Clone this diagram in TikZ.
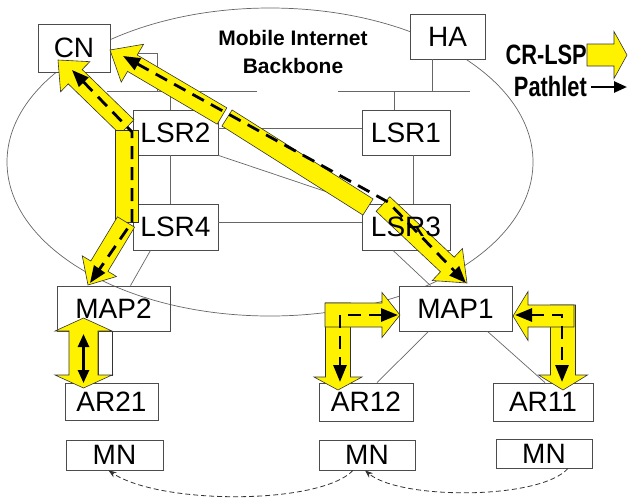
\documentclass[tikz,border=0pt]{standalone}
\usepackage{fontspec}
\setmainfont{Liberation Sans}
\newfontfamily\legendfont[FakeStretch=0.78]{Liberation Sans}
\usetikzlibrary{arrows.meta,calc}

% fat yellow arrow: tail, tip, half shaft, half head, head length
\newcommand{\crlsp}[5]{%
  \coordinate (lspb) at ($(#2)!#5pt!(#1)$);
  \draw[lsp] ($(#1)!#3pt!90:(#2)$) -- ($(lspb)!#3pt!90:(#2)$) -- ($(lspb)!#4pt!90:(#2)$) -- (#2)
    -- ($(lspb)!#4pt!-90:(#2)$) -- ($(lspb)!#3pt!-90:(#2)$) -- ($(#1)!#3pt!-90:(#2)$) -- cycle;
}
% yellow band without head
\newcommand{\crband}[3]{%
  \draw[lsp] ($(#1)!#3pt!90:(#2)$) -- ($(#2)!#3pt!-90:(#1)$) -- ($(#2)!#3pt!90:(#1)$) -- ($(#1)!#3pt!-90:(#2)$) -- cycle;
}

\begin{document}
\begin{tikzpicture}[x=1pt, y=-1pt,
    box/.style={draw=black!70, fill=white, line width=0.8pt, inner sep=0pt, font=\fontsize{28}{30}\selectfont},
    link/.style={black!60, line width=0.7pt},
    lsp/.style={draw=black!80, fill=yellow, line width=0.6pt, line join=miter},
    pathlet/.style={line width=2.8pt, dash pattern=on 13pt off 8pt, {Triangle[length=17pt,width=13pt]}-{Triangle[length=17pt,width=13pt]}},
    move/.style={black!80, line width=0.8pt, dash pattern=on 5pt off 3pt, -{Stealth[length=8pt,width=6pt]}},
    legend/.style={inner sep=0pt, font=\legendfont\bfseries\fontsize{28}{30}\selectfont}]
    \useasboundingbox (0,0) rectangle (628,499);

    % backbone
    \draw[link] (270,162) ellipse [x radius=263, y radius=154];
    \node[font=\bfseries\fontsize{21}{28}\selectfont, align=center] (backbone) at (293,52) {Mobile Internet\\Backbone};

    % nodes
    \node[box, minimum width=72pt, minimum height=48pt] (cn) at (74,48) {CN};
    \node[box, minimum width=75pt, minimum height=45pt] (ha) at (447.5,36.5) {HA};
    \node[box, minimum width=85pt, minimum height=45pt] (lsr2) at (175.5,132.5) {LSR2};
    \node[box, minimum width=85pt, minimum height=46pt] (lsr4) at (175.5,227) {LSR4};
    \node[box, minimum width=88pt, minimum height=45pt] (lsr1) at (406,132.5) {LSR1};
    \node[box, minimum width=88pt, minimum height=46pt] (lsr3) at (406,227) {};
    \node[box, fill=none, minimum width=113pt, minimum height=45pt] (map2) at (113.5,308.5) {MAP2};
    \node[box, minimum width=113pt, minimum height=45pt] (map1) at (455.5,308.5) {MAP1};
    \node[box, minimum width=93pt, minimum height=37pt] (ar21) at (111.5,401.5) {AR21};
    \node[box, minimum width=94pt, minimum height=38pt] (ar12) at (366,402) {AR12};
    \node[box, minimum width=100pt, minimum height=38pt] (ar11) at (543,402) {AR11};
    \node[box, minimum width=97pt, minimum height=30pt] (mn1) at (114.5,455) {MN};
    \node[box, minimum width=96pt, minimum height=30pt] (mn2) at (367,455) {MN};
    \node[box, minimum width=96pt, minimum height=29pt] (mn3) at (544,453.5) {MN};

    % links
    \coordinate (busl) at (107,91);
    \coordinate (busle) at (257,91);
    \coordinate (busr) at (338,91);
    \coordinate (busre) at (470,91);
    \draw[link] (busl) -- (busle);
    \draw[link] (busr) -- (busre);
    \draw[link] ([yshift=-5pt]cn.east) -| ($(busl)+(50,0)$);
    \draw[link] ([xshift=-5pt]lsr2.north) -- ++(0,-19);
    \draw[link] ([xshift=-15pt]ha.south) -- ++(0,32);
    \draw[link] ([xshift=-12pt]lsr1.north) -- ++(0,-19);
    \draw[link] ([yshift=4.5pt]lsr2.east) -- ([yshift=4.5pt]lsr1.west);
    \draw[link] ([yshift=5pt]lsr4.east) -- ([yshift=5pt]lsr3.west);
    \draw[link] ([xshift=-5pt]lsr2.south) -- ([xshift=-5pt]lsr4.north);
    \draw[link] ([xshift=7pt]lsr1.south) -- ([xshift=7pt]lsr3.north);
    \draw[link] (lsr2.south east) -- (lsr3.north west);
    \draw[link] ([xshift=-25pt]lsr4.south) -- ([xshift=17pt]map2.north);
    \draw[link] ([xshift=-13pt]lsr3.south) -- ([xshift=-25pt]map1.north);
    \draw[link] ([xshift=-27pt]map1.south) -- ([xshift=11pt]ar12.north);
    \draw[link] ([xshift=32pt]map1.south) -- ([xshift=2pt]ar11.north);

    % CR-LSPs
    \crlsp{127,127}{58,60}{10}{21}{24}
    \draw[lsp] (115,130) rectangle (138,222);
    \crlsp{126,222}{88,285}{10}{20}{22}
    \crlsp{222,116}{110,50}{9.5}{22}{26}
    \crband{227,118}{368,207}{9.5}
    \crlsp{383,204}{467,283}{10}{22}{27}
    \crlsp{338,303}{338,390}{12.5}{24}{13}
    \crlsp{325,315}{400,315}{12}{22.5}{18}
    \crlsp{563,305}{563,390}{12.5}{24.5}{15}
    \crlsp{574,316}{513,316}{11}{24.5}{15}
    \draw[lsp, fill=white] (98,331) rectangle (112,375);
    \draw[lsp] (83.5,318) -- (112,331) -- (98,331) -- (98,375) -- (112,375) -- (83.5,388)
        -- (55,375) -- (69,375) -- (69,331) -- (55,331) -- cycle;
    \node[font=\fontsize{28}{30}\selectfont] (lsr3text) at (lsr3) {LSR3};

    % pathlets
    \draw[pathlet] (72,70) -- (132,132) -- (132,222) -- (90,283);
    \draw[pathlet] (123,56) -- (388,202) -- (466,283);
    \draw[pathlet] (398,315) -- (340,315) -- (340,382);
    \draw[pathlet] (515,315) -- (562,315) -- (562,382);
    \draw[line width=2.5pt, {Triangle[length=13pt,width=11pt]}-{Triangle[length=13pt,width=11pt]}] (83.5,334) -- (83.5,383);

    % MN movement
    \draw[move] ([xshift=24pt]mn3.south) .. controls (540,500) and (400,500) .. ([xshift=-2pt]mn2.south);
    \draw[move] ([xshift=-14pt]mn2.south) .. controls (320,505) and (160,505) .. ([xshift=-6pt]mn1.south);

    % legend
    \node[legend, anchor=east] (crlsp) at (587,55) {CR-LSP};
    \node[legend, anchor=east] (pathlet) at (587,86) {Pathlet};
    \coordinate (lspend) at (627,55);
    \coordinate (pathend) at (627,87);
    \crlsp{crlsp.east}{lspend}{11}{23.5}{13}
    \draw[line width=2.5pt, -{Triangle[length=13pt,width=11pt]}] ([xshift=4pt]pathlet.east |- pathend) -- (pathend);
\end{tikzpicture}
\end{document}
